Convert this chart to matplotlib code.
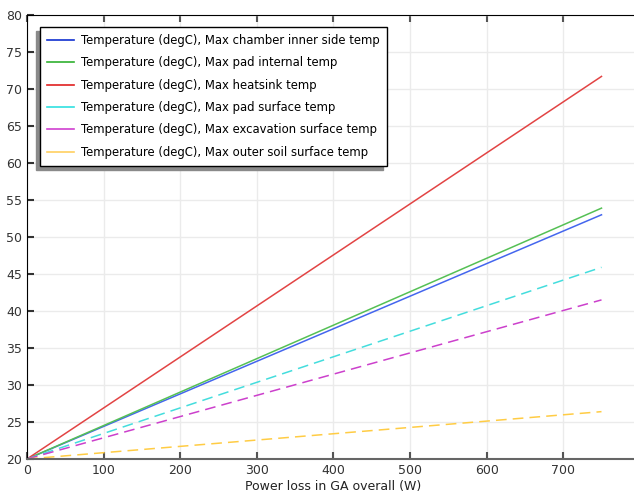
import numpy as np
from matplotlib import pyplot as plt
from matplotlib.lines import Line2D

# power loss (W) and max temperatures (degC)
power = [0, 750]
t_chamber = [20.0, 53.0]
t_pad_internal = [20.0, 53.9]
t_heatsink = [20.0, 71.7]
t_pad_surface = [20.0, 45.9]
t_excavation = [20.0, 41.5]
t_outer_soil = [20.0, 26.4]

labels = [
    'Temperature (degC), Max chamber inner side temp',
    'Temperature (degC), Max pad internal temp',
    'Temperature (degC), Max heatsink temp',
    'Temperature (degC), Max pad surface temp',
    'Temperature (degC), Max excavation surface temp',
    'Temperature (degC), Max outer soil surface temp',
]
series = [t_chamber, t_pad_internal, t_heatsink, t_pad_surface, t_excavation, t_outer_soil]
colors = ['#4466ee', '#55c055', '#e24444', '#44dddd', '#cc40cc', '#ffcc44']
legend_colors = ['#1030d0', '#30b030', '#e02020', '#30e0e0', '#d040d0', '#ffd060']
styles = ['-', '-', '-', (0, (7, 4)), (0, (7, 4)), (0, (7, 4))]

fig = plt.figure(figsize=(6.34, 4.96), dpi=100)
ax = fig.add_axes([27 / 634, 37 / 496, 612.8 / 634, 444 / 496])

for y, c, ls in zip(series, colors, styles):
    ax.plot(power, y, color=c, linestyle=ls, linewidth=1.1)

ax.set_xlim(0, 800)
ax.set_ylim(20, 80)
ax.set_xticks(np.arange(0, 800, 100))
ax.set_yticks(np.arange(20, 81, 5))
ax.grid(True, color='#ebebeb', linewidth=1.0)
ax.set_axisbelow(True)

ax.spines['right'].set_visible(False)
ax.spines['left'].set_color('black')
ax.spines['top'].set_color('black')
ax.spines['bottom'].set_color('#666666')
ax.spines['bottom'].set_linewidth(1.5)
ax.tick_params(direction='in', length=5, width=1.5, colors='#555555', labelcolor='#333333', labelsize=9, top=True)
ax.tick_params(axis='y', colors='#333333')
ax.set_xlabel('Power loss in GA overall (W)', fontsize=9, color='#222222', labelpad=2)

handles = [Line2D([], [], color=c, linewidth=1.2) for c in legend_colors]
ax.legend(handles, labels, loc='upper left', bbox_to_anchor=(0.0212, 0.973), borderaxespad=0,
          fontsize=8.4, fancybox=False, framealpha=1, edgecolor='black',
          shadow={'ox': -3, 'oy': -3, 'color': '#8a8a8a', 'alpha': 1},
          labelspacing=0.8, handlelength=2.3, handletextpad=0.65, borderpad=0.6)

plt.savefig('out.png', dpi=100)
